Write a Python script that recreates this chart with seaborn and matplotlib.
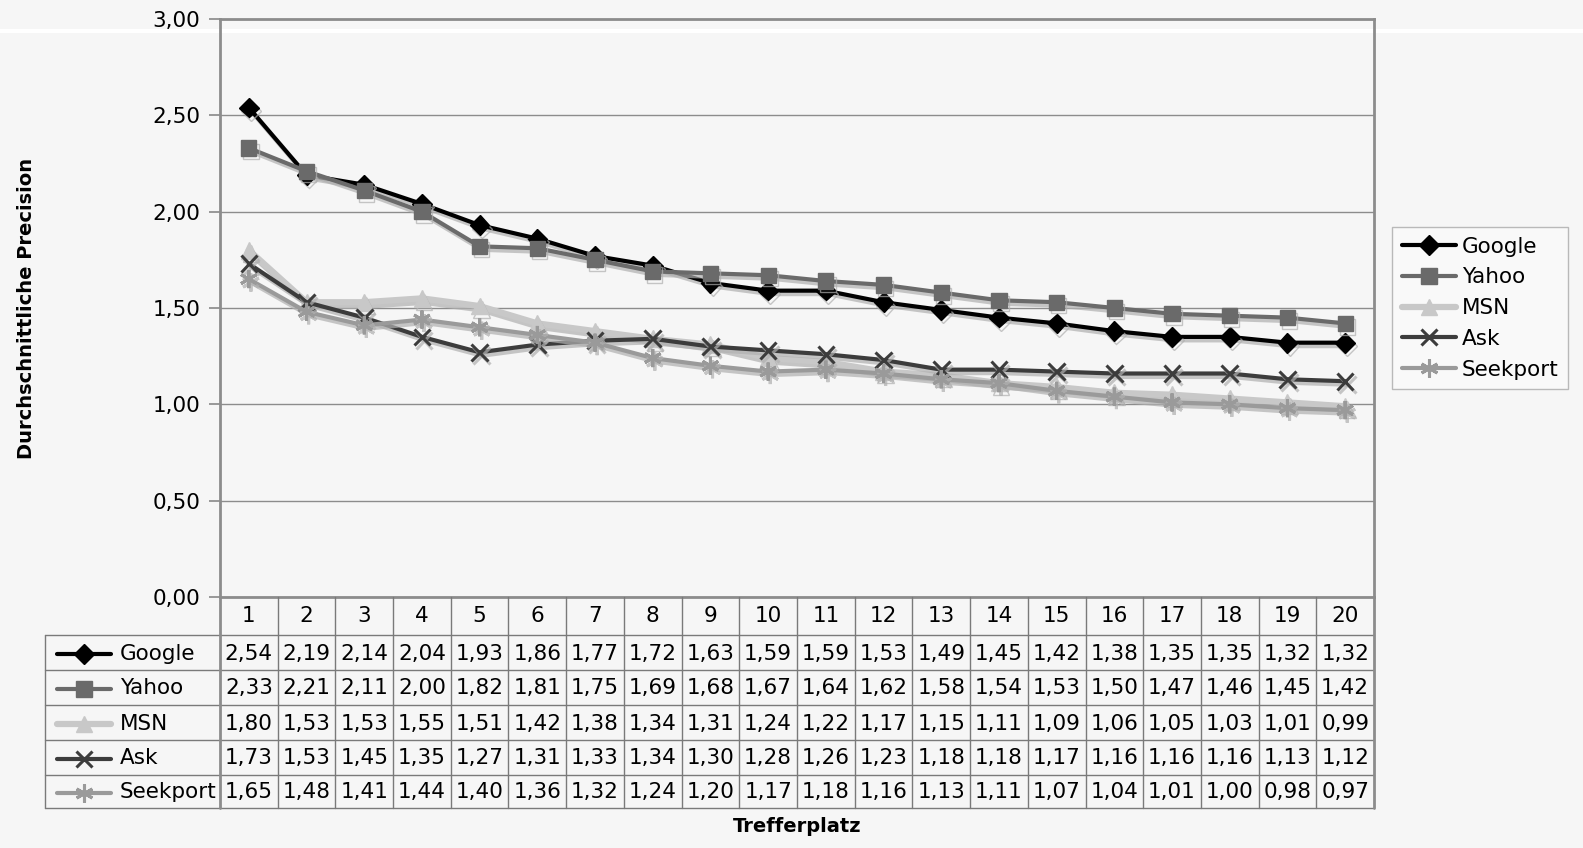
import matplotlib
matplotlib.use("Agg")
import matplotlib.pyplot as plt
import matplotlib.patheffects as pe
from matplotlib.lines import Line2D
import pandas as pd
import seaborn as sns

plaetze = list(range(1, 21))
engines = ["Google", "Yahoo", "MSN", "Ask", "Seekport"]
google = [2.54, 2.19, 2.14, 2.04, 1.93, 1.86, 1.77, 1.72, 1.63, 1.59, 1.59, 1.53, 1.49, 1.45, 1.42, 1.38, 1.35, 1.35, 1.32, 1.32]
yahoo = [2.33, 2.21, 2.11, 2.00, 1.82, 1.81, 1.75, 1.69, 1.68, 1.67, 1.64, 1.62, 1.58, 1.54, 1.53, 1.50, 1.47, 1.46, 1.45, 1.42]
msn = [1.80, 1.53, 1.53, 1.55, 1.51, 1.42, 1.38, 1.34, 1.31, 1.24, 1.22, 1.17, 1.15, 1.11, 1.09, 1.06, 1.05, 1.03, 1.01, 0.99]
ask = [1.73, 1.53, 1.45, 1.35, 1.27, 1.31, 1.33, 1.34, 1.30, 1.28, 1.26, 1.23, 1.18, 1.18, 1.17, 1.16, 1.16, 1.16, 1.13, 1.12]
seekport = [1.65, 1.48, 1.41, 1.44, 1.40, 1.36, 1.32, 1.24, 1.20, 1.17, 1.18, 1.16, 1.13, 1.11, 1.07, 1.04, 1.01, 1.00, 0.98, 0.97]
yticks = [0.0, 0.5, 1.0, 1.5, 2.0, 2.5, 3.0]

series = dict(zip(engines, [google, yahoo, msn, ask, seekport]))
df = pd.DataFrame([{"Trefferplatz": p, "Suchmaschine": e, "Precision": v}
                   for e in engines for p, v in zip(plaetze, series[e])])

styles = {
    "Google":   dict(color="#000000", marker="D", ms=10, lw=3.0, mew=1),
    "Yahoo":    dict(color="#6a6a6a", marker="s", ms=11, lw=3.0, mew=1),
    "MSN":      dict(color="#c8c8c8", marker="^", ms=12, lw=4.5, mew=1),
    "Ask":      dict(color="#3c3c3c", marker="x", ms=12, lw=3.0, mew=2.2),
    "Seekport": dict(color="#9a9a9a", marker=(6, 2, 0), ms=13, lw=3.0, mew=2.2),
}

sns.set_style("white")
plt.rcParams["font.family"] = ["DejaVu Sans"]
plt.rcParams["text.color"] = "black"
plt.rcParams["ytick.labelcolor"] = "black"
bg = "#f6f6f6"
W, H = 1583, 848
fig = plt.figure(figsize=(W / 100, H / 100), dpi=100, facecolor=bg)
fig.add_artist(Line2D([0, 1], [1 - 31 / H, 1 - 31 / H], color="white", lw=3, zorder=0))

def fx(px):
    return px / W

def fy(px):
    return 1 - px / H

ax = fig.add_axes([fx(220), fy(597), fx(1374) - fx(220), fy(19) - fy(597)])
ax.set_facecolor("none")
shadow = [pe.SimpleLineShadow(offset=(1.5, -2.5), shadow_color="#b0b0b0", alpha=0.7), pe.Normal()]
for e in engines:
    st = styles[e]
    sns.lineplot(data=df[df["Suchmaschine"] == e], x="Trefferplatz", y="Precision", ax=ax,
                 color=st["color"], marker=st["marker"], markersize=st["ms"], linewidth=st["lw"],
                 markeredgecolor=st["color"], markeredgewidth=st["mew"],
                 label=e, path_effects=shadow, legend=False)

ax.set_xlim(0.5, 20.5)
ax.set_ylim(0, 3)
ax.set_yticks(yticks)
ax.set_yticklabels([f"{t:.2f}".replace(".", ",") for t in yticks], fontsize=15.5, color="black")
ax.tick_params(axis="y", length=8, width=1.2, color="#888888", pad=6, left=True)
ax.set_xticks([])
ax.grid(axis="y", color="#8c8c8c", lw=1)
for s in ax.spines.values():
    s.set_color("#8c8c8c")
    s.set_linewidth(2)
ax.set_xlabel("")
ax.set_ylabel("")
fig.text(fx(27), fy(308), "Durchschnittliche Precision", rotation=90, ha="center", va="center",
         fontsize=14, fontweight="bold", color="black")
fig.text(fx(797), fy(826), "Trefferplatz", ha="center", va="center", fontsize=14,
         fontweight="bold", color="black")

handles = [Line2D([], [], color=styles[e]["color"], marker=styles[e]["marker"],
                  markersize=styles[e]["ms"], lw=styles[e]["lw"],
                  markeredgewidth=styles[e]["mew"]) for e in engines]
leg = fig.legend(handles, engines, loc="upper left", bbox_to_anchor=(fx(1392), fy(227)),
                 fontsize=15.5, frameon=True, fancybox=False, handlelength=2.5,
                 handletextpad=0.3, labelspacing=0.5, borderpad=0.45, borderaxespad=0,
                 labelcolor="black")
leg.get_frame().set_edgecolor("#aaaaaa")
leg.get_frame().set_facecolor("#fafafa")

# data table below the plot
tab = fig.add_axes([fx(45), fy(808), fx(1374) - fx(45), fy(597) - fy(808)])
tab.set_facecolor("none")
cw = (1374 - 220) / 20
left = 0.5 - (220 - 45) / cw
tab.set_xlim(left, 20.5)
tab.set_ylim(211, 0)
tab.axis("off")
rows = [0, 38, 73, 108, 143, 178, 211]
lc = "#7a7a7a"
for y in rows[1:]:
    tab.plot([left, 20.5], [y, y], color=lc, lw=1, clip_on=False)
tab.plot([left, left], [38, 211], color=lc, lw=1, clip_on=False)
for i in range(21):
    tab.plot([0.5 + i, 0.5 + i], [0, 211], color=lc if 0 < i < 20 else "#8c8c8c",
             lw=1 if 0 < i < 20 else 2, clip_on=False)
for p in plaetze:
    tab.text(p, 19, str(p), ha="center", va="center", fontsize=15.5, color="black")
for r, e in enumerate(engines):
    yc = (rows[r + 1] + rows[r + 2]) / 2 + 1
    st = styles[e]
    tab.plot([left + 0.2, left + 1.15], [yc, yc], color=st["color"], lw=st["lw"], clip_on=False)
    tab.plot([left + 0.675], [yc], color=st["color"], marker=st["marker"], ms=st["ms"], lw=0,
             markeredgewidth=st["mew"], clip_on=False)
    tab.text(left + 1.3, yc, e, ha="left", va="center", fontsize=15.5, color="black")
    for p, v in zip(plaetze, series[e]):
        tab.text(p, yc, f"{v:.2f}".replace(".", ","), ha="center", va="center",
                 fontsize=15.5, color="black")

fig.savefig("out.png", dpi=100, facecolor=bg)
